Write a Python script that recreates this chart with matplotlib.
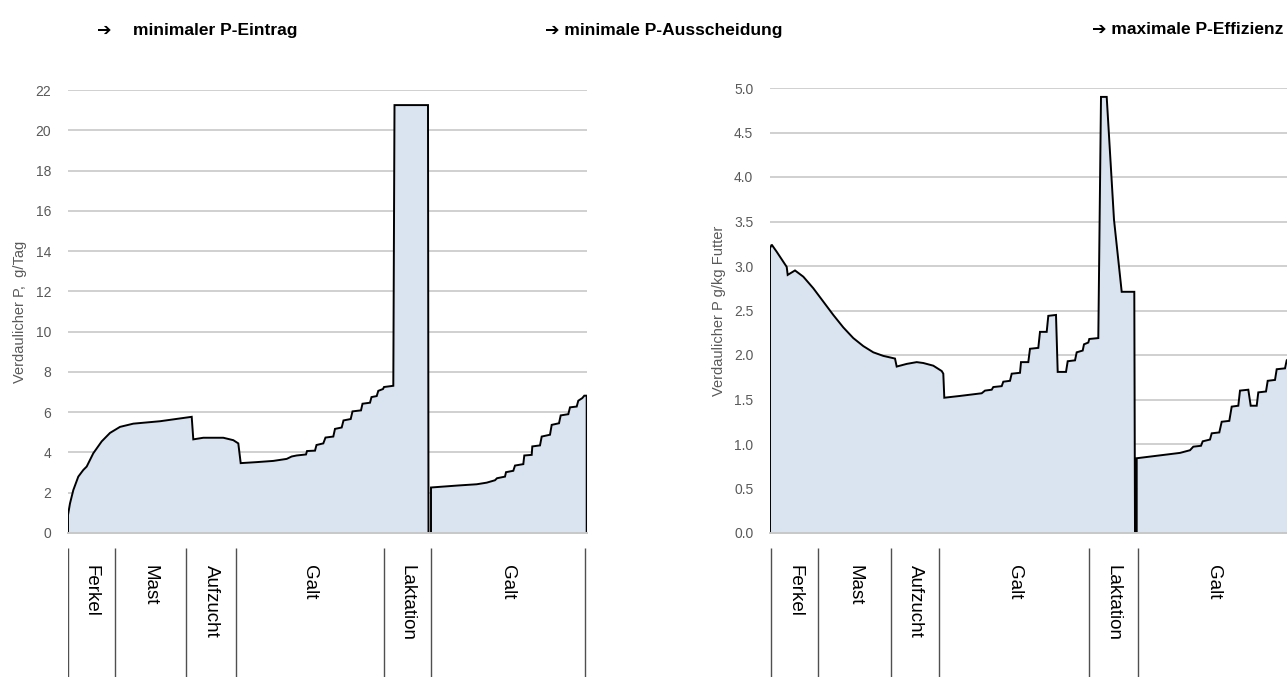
import matplotlib.pyplot as plt
from matplotlib.ticker import FormatStrFormatter

plt.rcParams['font.family'] = ['Liberation Sans', 'DejaVu Sans']

# --- Daten: Verdaulicher P, g/Tag (linkes Diagramm) ---
tag_links = [0, 0, 2, 5.3, 10.3, 15.3, 18.7, 25.3, 33.7, 42, 52, 65.3, 92, 123.7, 125.3,
             135.3, 155.3, 165.3, 170.3, 172.7, 188.7, 205.3, 218.7, 223.7, 228.7, 238, 239,
             247, 248.5, 255.3, 257.5, 265.3, 267, 273.7, 275.5, 282.7, 284.5, 293, 294.5,
             302, 303.5, 308.7, 310.3, 315, 316, 325.3, 326.5, 360, 360.5, 363, 363, 390.3,
             408.7, 418.7, 427, 429, 437, 438, 445.3, 447, 455.3, 456.3, 463.7, 464.3, 472,
             473.7, 482, 483.7, 491, 492.7, 500.3, 502, 508.7, 510.3, 514.3, 516.3, 518.7, 518.7]
p_links = [0, 0.9, 1.47, 2.13, 2.8, 3.13, 3.3, 3.96, 4.55, 4.97, 5.27, 5.43, 5.55, 5.77, 4.65,
           4.73, 4.73, 4.61, 4.45, 3.47, 3.52, 3.58, 3.68, 3.8, 3.85, 3.9, 4.07,
           4.09, 4.37, 4.45, 4.74, 4.79, 5.17, 5.24, 5.59, 5.66, 6.04, 6.09, 6.42,
           6.47, 6.75, 6.8, 7.06, 7.15, 7.25, 7.31, 21.25, 21.25, 0, 0, 2.26, 2.36,
           2.42, 2.5, 2.62, 2.72, 2.8, 3.02, 3.09, 3.35, 3.42, 3.85, 3.88, 4.3, 4.35,
           4.79, 4.88, 5.37, 5.45, 5.84, 5.9, 6.24, 6.28, 6.57, 6.7, 6.82, 6.82, 0]

# --- Daten: Verdaulicher P g/kg Futter (rechtes Diagramm) ---
tag_rechts = [0, 0, 1.7, 6.7, 16.7, 17.7, 25, 33.3, 43.3, 53.3, 63.3, 73.3, 83.3, 93.3, 103.3,
              113.3, 125, 126.7, 136.7, 146.7, 153.3, 163.3, 171.7, 173.3, 174.3, 190, 211.7,
              215, 221.7, 223.3, 231.7, 233.3, 240, 241.7, 250, 251, 258.3, 260, 268.3, 270,
              276.7, 278.3, 286, 287.7, 296, 297.7, 305, 306.7, 312.7, 314, 318.3, 319.3,
              328.3, 331, 336.7, 344, 351.7, 364.3, 365, 366.7, 366.7, 410, 420, 423.3, 431,
              432.7, 440, 441.7, 449.3, 451.7, 459.3, 461.7, 468.3, 470, 478.3, 480.7, 486.7,
              488.3, 496, 497.7, 505, 506.7, 515, 516.7, 518.7, 518.7]
p_rechts = [0, 3.20, 3.24, 3.16, 2.99, 2.90, 2.95, 2.88, 2.75, 2.60, 2.45, 2.31, 2.19, 2.10, 2.03,
            1.99, 1.96, 1.87, 1.90, 1.92, 1.91, 1.88, 1.82, 1.79, 1.52, 1.54, 1.57,
            1.60, 1.61, 1.64, 1.65, 1.70, 1.71, 1.79, 1.80, 1.92, 1.92, 2.07, 2.08, 2.26,
            2.26, 2.44, 2.45, 1.81, 1.81, 1.93, 1.94, 2.03, 2.05, 2.12, 2.14, 2.18,
            2.19, 4.90, 4.90, 3.52, 2.71, 2.71, 0, 0, 0.84, 0.90, 0.93, 0.97, 0.98,
            1.03, 1.05, 1.12, 1.13, 1.25, 1.26, 1.42, 1.43, 1.60, 1.61, 1.43, 1.43,
            1.58, 1.59, 1.71, 1.72, 1.84, 1.85, 1.94, 1.96, 0]

phasen = ['Ferkel', 'Mast', 'Aufzucht', 'Galt', 'Laktation', 'Galt']
grenzen_links = [0, 46.5, 118, 168, 315.5, 363, 517]
grenzen_rechts = [1, 48, 121, 169.5, 319, 368, 520]

W, H = 1287, 677
fig = plt.figure(figsize=(W / 100, H / 100), dpi=100)


def px_axes(x0, y0, x1, y1):
    return fig.add_axes([x0 / W, 1 - y1 / H, (x1 - x0) / W, (y1 - y0) / H])


def diagramm(ax, t, p, ymax, schritt, fmt, label):
    ax.fill_between(t, p, 0, color='#dae3f0', lw=0)
    ax.plot(t, p, color='black', lw=1.4, solid_joinstyle='miter')
    ax.set_xlim(0, 519)
    ax.set_ylim(0, ymax)
    n = int(round(ymax / schritt))
    ax.set_yticks([i * schritt for i in range(n + 1)])
    ax.yaxis.set_major_formatter(FormatStrFormatter(fmt))
    ax.set_xticks([])
    ax.yaxis.grid(True, color='#d0d0d0', lw=1.4)
    ax.set_axisbelow(True)
    for s in ['left', 'right', 'top']:
        ax.spines[s].set_visible(False)
    ax.spines['bottom'].set_color('#c8c8c8')
    ax.spines['bottom'].set_linewidth(1.4)
    ax.tick_params(axis='y', length=0, pad=12, labelsize=10, labelcolor='#595959')
    ax.set_ylabel(label, fontsize=10.5, color='#595959', labelpad=6)


def phasen_achse(ax, grenzen):
    ax.set_xlim(0, 519)
    ax.set_ylim(0, 1)
    ax.axis('off')
    ax.vlines(grenzen, 0, 1, color='#505050', lw=1)
    for i, name in enumerate(phasen):
        mitte = (grenzen[i] + grenzen[i + 1]) / 2
        ax.text(mitte, 0.87, name, rotation=-90, ha='center', va='top',
                fontsize=13.5, color='black')


ax1 = px_axes(68, 90, 587, 533)
diagramm(ax1, tag_links, p_links, 22, 2, '%d', 'Verdaulicher P,  g/Tag')
ax2 = px_axes(770, 88, 1289, 533)
diagramm(ax2, tag_rechts, p_rechts, 5, 0.5, '%.1f', 'Verdaulicher P g/kg Futter')

phasen_achse(px_axes(68, 548, 587, 682), grenzen_links)
phasen_achse(px_axes(770, 548, 1289, 682), grenzen_rechts)

kopf = dict(fontsize=12.5, fontweight='bold', va='center')
y_kopf = 1 - 30 / H
fig.text(97 / W, y_kopf, '➔', **kopf)
fig.text(133 / W, y_kopf, 'minimaler P-Eintrag', **kopf)
fig.text(545 / W, y_kopf, '➔ minimale P-Ausscheidung', **kopf)
fig.text(1283 / W, y_kopf, '➔ maximale P-Effizienz', ha='right', **kopf)

fig.savefig('out.png', dpi=100)
